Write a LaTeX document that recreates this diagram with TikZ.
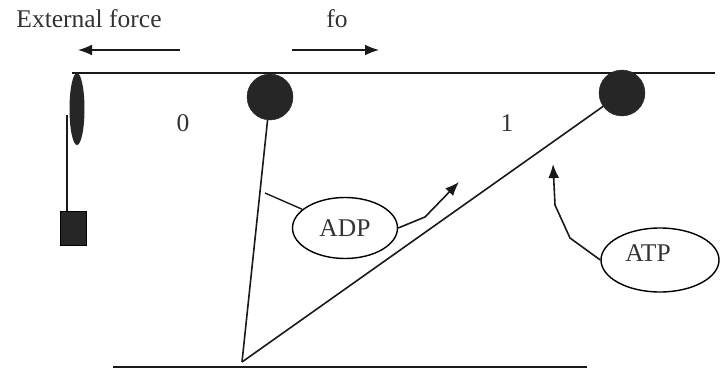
\documentclass[tikz,border=0pt]{standalone}
\usepackage{fontspec}
\setmainfont{Liberation Serif}
\usetikzlibrary{arrows.meta,shapes.geometric}
\begin{document}
\begin{tikzpicture}[x=1pt,y=-1pt,
  line/.style={line width=1.6pt,draw=black!90},
  arr/.style={line width=1.6pt,draw=black!90,-{Latex[length=14pt,width=11pt]}},
  ball/.style={circle,fill=black!85,draw=black!85,minimum size=46pt,inner sep=0pt},
  lbl/.style={font=\fontsize{25.5}{29}\selectfont,inner sep=0pt,text=black!80},
  bubble/.style={ellipse,draw,line width=1.4pt,font=\fontsize{25.5}{29}\selectfont,inner sep=0pt,text=black!80}]
\useasboundingbox (0,0) rectangle (720,369);
% top and bottom lines
\coordinate (tl) at (72,73);
\coordinate (tr) at (715,73);
\draw[line] (tl) -- (tr);
\coordinate (bl) at (113,367);
\coordinate (br) at (587,367);
\draw[line] (bl) -- (br);
% labels
\node[lbl] (ext) at (89,19) {External force};
\node[lbl] (fo) at (337,19) {fo};
\coordinate (ea1) at (180,50);
\coordinate (ea2) at (78,50);
\draw[arr] (ea1) -- (ea2);
\coordinate (fa1) at (292,50);
\coordinate (fa2) at (379,50);
\draw[arr] (fa1) -- (fa2);
\node[lbl] (zero) at (183,123) {0};
\node[lbl] (one) at (507,123) {1};
% left pulley and weight
\node[ellipse,fill=black!85,minimum width=15pt,minimum height=72pt,inner sep=0pt] (pul) at (77,109) {};
\node[rectangle,fill=black!85,draw=black,minimum width=26pt,minimum height=34pt,inner sep=0pt] (wt) at (73,228) {};
\coordinate (s1) at (67,115);
\coordinate (s2) at (67,211);
\draw[line,line width=1.4pt] (s1) -- (s2);
% heads
\node[ball] (c1) at (270,97) {};
\node[ball] (c2) at (622,93) {};
\coordinate (v) at (242,362);
\draw[line] (c1) -- (v);
\draw[line] (v) -- (c2);
% ADP
\node[bubble,minimum width=105pt,minimum height=61pt] (adp) at (345,228) {ADP};
\coordinate (adpin) at (265,193);
\draw[line,line width=1.4pt] (adpin) -- (adp);
\coordinate (adpb) at (425,217);
\coordinate (adpt) at (459,182);
\draw[arr] (adp.east) -- (adpb) -- (adpt);
% ATP
\node[bubble,minimum width=118pt,minimum height=64pt] (atp) at (660,260) {};
\node[lbl] (atpt) at (648,253) {ATP};
\coordinate (atpb1) at (570,238);
\coordinate (atpb2) at (555,205);
\coordinate (atpt2) at (553,164);
\draw[arr] (atp.west) -- (atpb1) -- (atpb2) -- (atpt2);
\end{tikzpicture}
\end{document}
